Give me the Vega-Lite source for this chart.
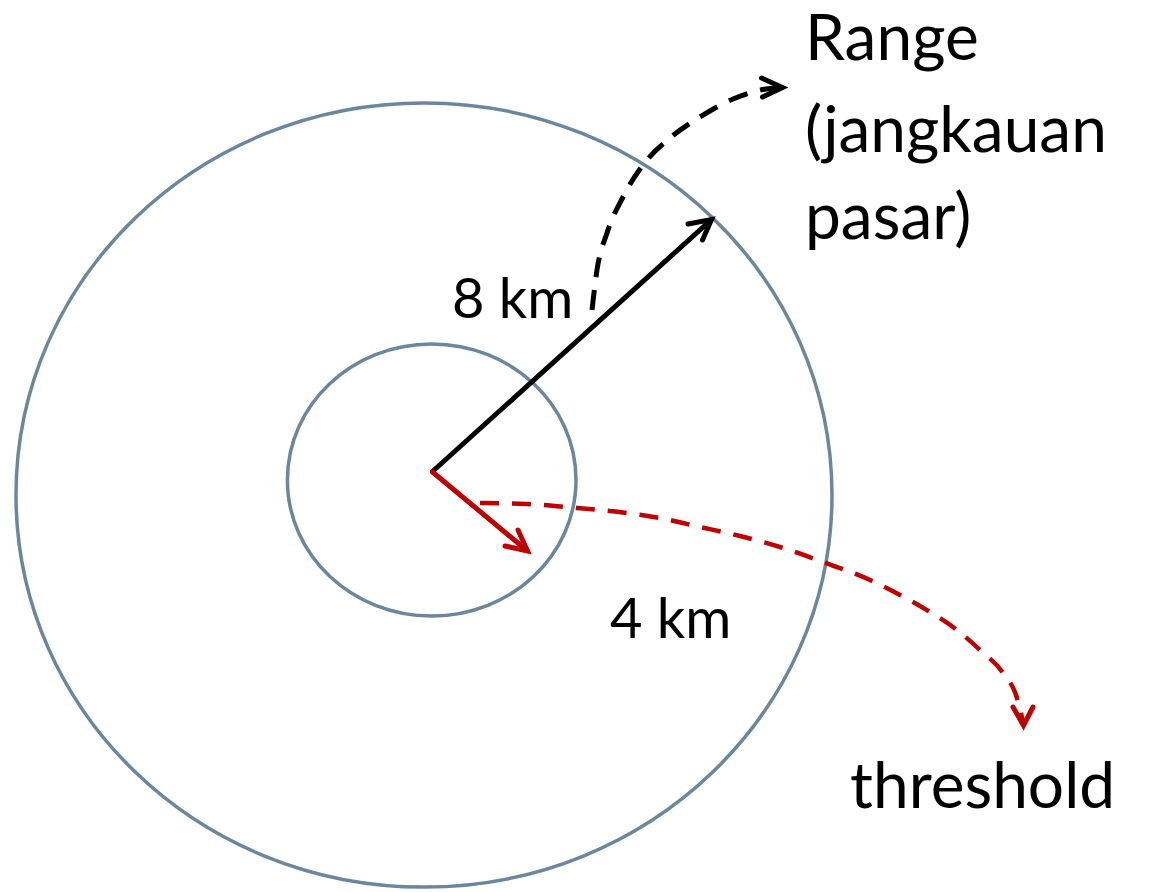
{
  "$schema": "https://vega.github.io/schema/vega-lite/v6.json",
  "width": 1151,
  "height": 892,
  "autosize": "none",
  "padding": 0,
  "background": "white",
  "config": {"view": {"stroke": null}},
  "encoding": {
    "x": {"type": "quantitative", "scale": {"domain": [0, 1151], "nice": false, "zero": false}, "axis": null},
    "y": {"type": "quantitative", "scale": {"domain": [0, 892], "nice": false, "zero": false, "reverse": true}, "axis": null}
  },
  "layer": [
    {
      "data": {"values": [
        {"ring": "range", "cx": 424, "cy": 495, "r": 408},
        {"ring": "threshold", "cx": 431.7, "cy": 480, "r": 144.3}
      ]},
      "mark": {"type": "point", "filled": false, "color": "#6B879E", "strokeWidth": 3.5, "opacity": 1},
      "encoding": {
        "x": {"field": "cx", "type": "quantitative"},
        "y": {"field": "cy", "type": "quantitative"},
        "size": {"field": "r", "type": "quantitative", "scale": {"type": "pow", "exponent": 2, "domain": [0, 500], "range": [0, 1000000]}, "legend": null},
        "shape": {"field": "ring", "type": "nominal", "scale": {"domain": ["range", "threshold"], "range": ["M-1,0A1,0.961,0,1,1,1,0A1,0.961,0,1,1,-1,0Z", "M-1,0A1,0.9425,0,1,1,1,0A1,0.9425,0,1,1,-1,0Z"]}, "legend": null}
      }
    },
    {
      "data": {"values": [
        {"seg": "range", "x": 432.5, "y": 471.5, "x2": 711.5, "y2": 219.5}
      ]},
      "mark": {"type": "rule", "color": "#000000", "strokeWidth": 5, "strokeCap": "round"},
      "encoding": {
        "x": {"field": "x", "type": "quantitative"},
        "y": {"field": "y", "type": "quantitative"},
        "x2": {"field": "x2"},
        "y2": {"field": "y2"}
      }
    },
    {
      "data": {"values": [
        {"seg": "threshold", "x": 432.5, "y": 472, "x2": 527, "y2": 550.5}
      ]},
      "mark": {"type": "rule", "color": "#C00000", "strokeWidth": 5, "strokeCap": "round"},
      "encoding": {
        "x": {"field": "x", "type": "quantitative"},
        "y": {"field": "y", "type": "quantitative"},
        "x2": {"field": "x2"},
        "y2": {"field": "y2"}
      }
    },
    {
      "data": {"values": [
        {"i": 0, "x": 592, "y": 310},
        {"i": 1, "x": 597, "y": 270},
        {"i": 2, "x": 607, "y": 233},
        {"i": 3, "x": 623, "y": 197},
        {"i": 4, "x": 643, "y": 165},
        {"i": 5, "x": 670, "y": 138},
        {"i": 6, "x": 700, "y": 117},
        {"i": 7, "x": 733, "y": 99},
        {"i": 8, "x": 763, "y": 89.5},
        {"i": 9, "x": 782, "y": 87.5}
      ]},
      "mark": {"type": "line", "color": "#000000", "strokeWidth": 5, "strokeDash": [20, 13], "interpolate": "monotone"},
      "encoding": {
        "x": {"field": "x", "type": "quantitative"},
        "y": {"field": "y", "type": "quantitative"},
        "order": {"field": "i", "type": "quantitative"}
      }
    },
    {
      "data": {"values": [
        {"i": 0, "x": 480, "y": 503},
        {"i": 1, "x": 527, "y": 504},
        {"i": 2, "x": 577, "y": 508},
        {"i": 3, "x": 627, "y": 513},
        {"i": 4, "x": 660, "y": 518},
        {"i": 5, "x": 700, "y": 527},
        {"i": 6, "x": 740, "y": 536},
        {"i": 7, "x": 780, "y": 547},
        {"i": 8, "x": 823, "y": 562},
        {"i": 9, "x": 870, "y": 580},
        {"i": 10, "x": 900, "y": 595},
        {"i": 11, "x": 930, "y": 612},
        {"i": 12, "x": 957, "y": 630},
        {"i": 13, "x": 980, "y": 650},
        {"i": 14, "x": 1003, "y": 673},
        {"i": 15, "x": 1017, "y": 698},
        {"i": 16, "x": 1023.5, "y": 724}
      ]},
      "mark": {"type": "line", "color": "#C00000", "strokeWidth": 4.5, "strokeDash": [19, 13], "interpolate": "monotone"},
      "encoding": {
        "x": {"field": "x", "type": "quantitative"},
        "y": {"field": "y", "type": "quantitative"},
        "order": {"field": "i", "type": "quantitative"}
      }
    },
    {
      "data": {"values": [
        {"head": "range-arrow", "i": 0, "x": 688, "y": 224},
        {"head": "range-arrow", "i": 1, "x": 711.5, "y": 219.5},
        {"head": "range-arrow", "i": 2, "x": 702.5, "y": 240},
        {"head": "range-curve", "i": 0, "x": 761.5, "y": 78},
        {"head": "range-curve", "i": 1, "x": 782.5, "y": 87.5},
        {"head": "range-curve", "i": 2, "x": 762.5, "y": 97}
      ]},
      "mark": {"type": "line", "color": "#000000", "strokeWidth": 5, "strokeCap": "round", "strokeJoin": "miter"},
      "encoding": {
        "x": {"field": "x", "type": "quantitative"},
        "y": {"field": "y", "type": "quantitative"},
        "detail": {"field": "head", "type": "nominal"},
        "order": {"field": "i", "type": "quantitative"}
      }
    },
    {
      "data": {"values": [
        {"head": "threshold-arrow", "i": 0, "x": 505, "y": 546},
        {"head": "threshold-arrow", "i": 1, "x": 527.5, "y": 551},
        {"head": "threshold-arrow", "i": 2, "x": 518, "y": 530},
        {"head": "threshold-curve", "i": 0, "x": 1013, "y": 707},
        {"head": "threshold-curve", "i": 1, "x": 1023.5, "y": 725.5},
        {"head": "threshold-curve", "i": 2, "x": 1033, "y": 707}
      ]},
      "mark": {"type": "line", "color": "#C00000", "strokeWidth": 5, "strokeCap": "round", "strokeJoin": "miter"},
      "encoding": {
        "x": {"field": "x", "type": "quantitative"},
        "y": {"field": "y", "type": "quantitative"},
        "detail": {"field": "head", "type": "nominal"},
        "order": {"field": "i", "type": "quantitative"}
      }
    },
    {
      "data": {"values": [
        {"label": "Range", "x": 805, "y": 60},
        {"label": "(jangkauan", "x": 805, "y": 152},
        {"label": "pasar)", "x": 805, "y": 239},
        {"label": "threshold", "x": 850, "y": 808}
      ]},
      "mark": {"type": "text", "font": "Lato", "fontSize": 64, "align": "left", "baseline": "alphabetic", "color": "#000000"},
      "encoding": {
        "x": {"field": "x", "type": "quantitative"},
        "y": {"field": "y", "type": "quantitative"},
        "text": {"field": "label"}
      }
    },
    {
      "data": {"values": [
        {"label": "8 km", "x": 452, "y": 318},
        {"label": "4 km", "x": 610, "y": 638}
      ]},
      "mark": {"type": "text", "font": "Lato", "fontSize": 56, "align": "left", "baseline": "alphabetic", "color": "#000000"},
      "encoding": {
        "x": {"field": "x", "type": "quantitative"},
        "y": {"field": "y", "type": "quantitative"},
        "text": {"field": "label"}
      }
    }
  ]
}
